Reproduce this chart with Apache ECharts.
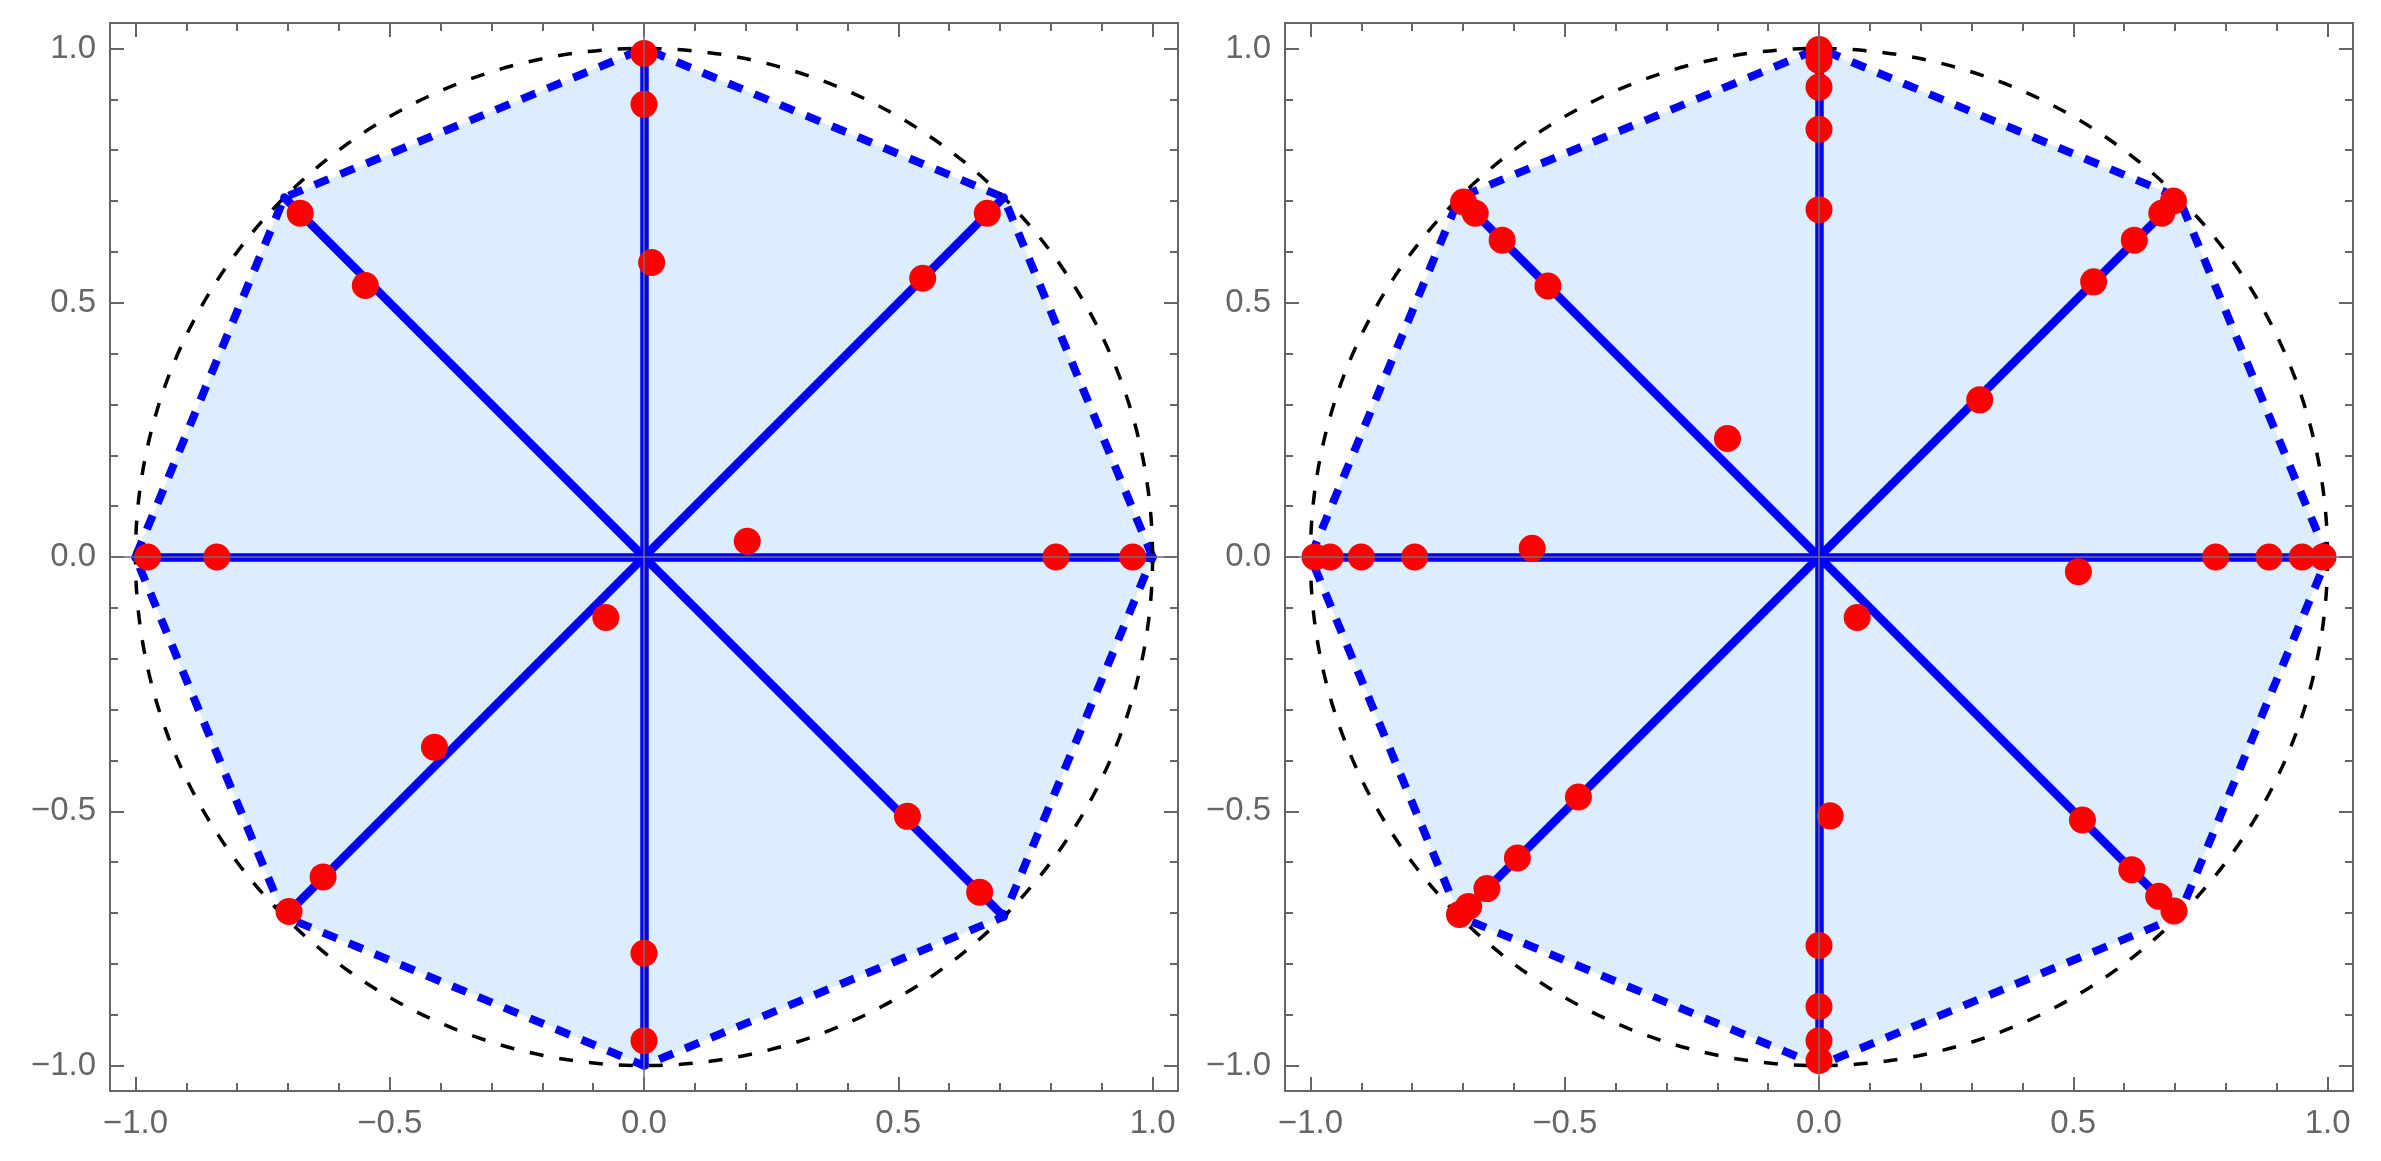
<!DOCTYPE html>
<html>
<head>
<meta charset="utf-8">
<script src="https://cdn.jsdelivr.net/npm/echarts@6/dist/echarts.min.js"></script>
<style>
html, body { margin: 0; padding: 0; background: #fff; }
#chart { width: 2381px; height: 1161px; }
</style>
</head>
<body>
<div id="chart"></div>
<script>
// tick positions
const majorTicks = [-1, -0.5, 0, 0.5, 1]
const minorTicks = [-0.9, -0.8, -0.7, -0.6, -0.4, -0.3, -0.2, -0.1, 0.1, 0.2, 0.3, 0.4, 0.6, 0.7, 0.8, 0.9]
const axisRange = [-1.05, 1.05]

// octagon vertices on the unit circle
const octagon = [
  [1, 0], [0.7071, 0.7071], [0, 1], [-0.7071, 0.7071],
  [-1, 0], [-0.7071, -0.7071], [0, -1], [0.7071, -0.7071]
]
const spokes = [
  [[-1, 0], [1, 0]],
  [[0, -1], [0, 1]],
  [[-0.7071, -0.7071], [0.7071, 0.7071]],
  [[-0.7071, 0.7071], [0.7071, -0.7071]]
]
const unitCircle = [[0, 0, 1]]
const originLines = [
  [[-1.05, 0], [1.05, 0]],
  [[0, -1.05], [0, 1.05]]
]

const leftDots = [
  [0, 0.99], [0, 0.89], [0.015, 0.579], [-0.676, 0.676], [-0.548, 0.534],
  [-0.976, 0], [-0.84, 0], [0.675, 0.676], [0.548, 0.548], [0.203, 0.031],
  [0.81, 0], [0.961, 0], [-0.075, -0.119], [-0.412, -0.374], [-0.631, -0.629],
  [-0.698, -0.697], [0, -0.779], [0, -0.951], [0.518, -0.51], [0.66, -0.659]
]

const rightDots = [
  [0, 0.998], [0, 0.977], [0, 0.924], [0, 0.841], [0, 0.683],
  [0, -0.764], [0, -0.884], [0, -0.951], [0, -0.99],
  [-0.991, 0], [-0.961, 0], [-0.9, 0], [-0.795, 0],
  [0.78, 0], [0.885, 0], [0.95, 0], [0.991, 0],
  [-0.699, 0.698], [-0.676, 0.676], [-0.623, 0.623], [-0.533, 0.533],
  [0.697, 0.7], [0.674, 0.676], [0.62, 0.623], [0.54, 0.541], [0.316, 0.309],
  [-0.707, -0.703], [-0.689, -0.687], [-0.653, -0.652], [-0.593, -0.592], [-0.473, -0.472],
  [0.518, -0.517], [0.615, -0.615], [0.668, -0.667], [0.698, -0.696],
  [-0.18, 0.233], [-0.564, 0.017], [0.51, -0.029], [0.075, -0.119], [0.022, -0.509]
]

const gray = '#666666'
const blue = '#0000ff'
const red = '#ff0000'
const fillBlue = '#dceefd'

// 4 axes per dimension per grid: main side major/minor, opposite side major/minor
const makeAxes = (dim, gridIndex) => {
  const sides = dim === 'x' ? ['bottom', 'top'] : ['left', 'right']
  const axes = []
  sides.forEach((pos, i) => {
    [majorTicks, minorTicks].forEach((ticks, j) => {
      axes.push({
        type: 'value',
        gridIndex,
        position: pos,
        min: axisRange[0],
        max: axisRange[1],
        axisLine: { show: j === 0, onZero: false, lineStyle: { color: gray, width: 2 } },
        axisTick: {
          show: true,
          inside: true,
          length: j === 0 ? 14 : 8,
          customValues: ticks,
          lineStyle: { color: gray, width: 2 }
        },
        axisLabel: {
          show: i === 0 && j === 0,
          customValues: majorTicks,
          formatter: (v) => v.toFixed(1).replace('-', '\u2212'),
          color: gray,
          fontSize: 33,
          fontFamily: 'Liberation Sans',
          margin: dim === 'x' ? 16 : 14
        },
        splitLine: { show: false }
      })
    })
  })
  return axes
}

const panelSeries = (p, dots) => {
  const xi = p * 4
  const yi = p * 4
  return [
    {
      type: 'custom',
      xAxisIndex: xi,
      yAxisIndex: yi,
      z: 1,
      silent: true,
      data: [[0, 0]],
      renderItem: (params, api) => ({
        type: 'polygon',
        shape: { points: octagon.map(v => api.coord(v)) },
        style: { fill: fillBlue, stroke: blue, lineWidth: 8, lineDash: [15, 13] }
      })
    },
    {
      type: 'custom',
      xAxisIndex: xi,
      yAxisIndex: yi,
      z: 2,
      silent: true,
      data: unitCircle,
      renderItem: (params, api) => {
        const c = api.coord([api.value(0), api.value(1)])
        const r = api.size([api.value(2), 0])[0]
        return {
          type: 'circle',
          shape: { cx: c[0], cy: c[1], r },
          style: { fill: 'none', stroke: '#000', lineWidth: 3.5, lineDash: [14, 16] }
        }
      }
    },
    {
      type: 'lines',
      coordinateSystem: 'cartesian2d',
      xAxisIndex: xi,
      yAxisIndex: yi,
      z: 3,
      silent: true,
      data: spokes.map(c => ({ coords: c })),
      lineStyle: { color: blue, width: 8.5, opacity: 1, cap: 'round' }
    },
    {
      type: 'scatter',
      xAxisIndex: xi,
      yAxisIndex: yi,
      z: 5,
      symbolSize: 27,
      data: dots,
      itemStyle: { color: red, opacity: 1 }
    },
    {
      type: 'lines',
      coordinateSystem: 'cartesian2d',
      xAxisIndex: xi,
      yAxisIndex: yi,
      z: 6,
      silent: true,
      data: originLines.map(c => ({ coords: c })),
      lineStyle: { color: '#707070', width: 1.5, opacity: 1 }
    }
  ]
}

const chart = echarts.init(document.getElementById('chart'))

const option = {
  backgroundColor: '#ffffff',
  animation: false,
  grid: [
    { left: 110, top: 23, width: 1068, height: 1068 },
    { left: 1285, top: 23, width: 1068, height: 1068 }
  ],
  xAxis: [...makeAxes('x', 0), ...makeAxes('x', 1)],
  yAxis: [...makeAxes('y', 0), ...makeAxes('y', 1)],
  series: [...panelSeries(0, leftDots), ...panelSeries(1, rightDots)]
}

chart.setOption(option)
</script>
</body>
</html>
